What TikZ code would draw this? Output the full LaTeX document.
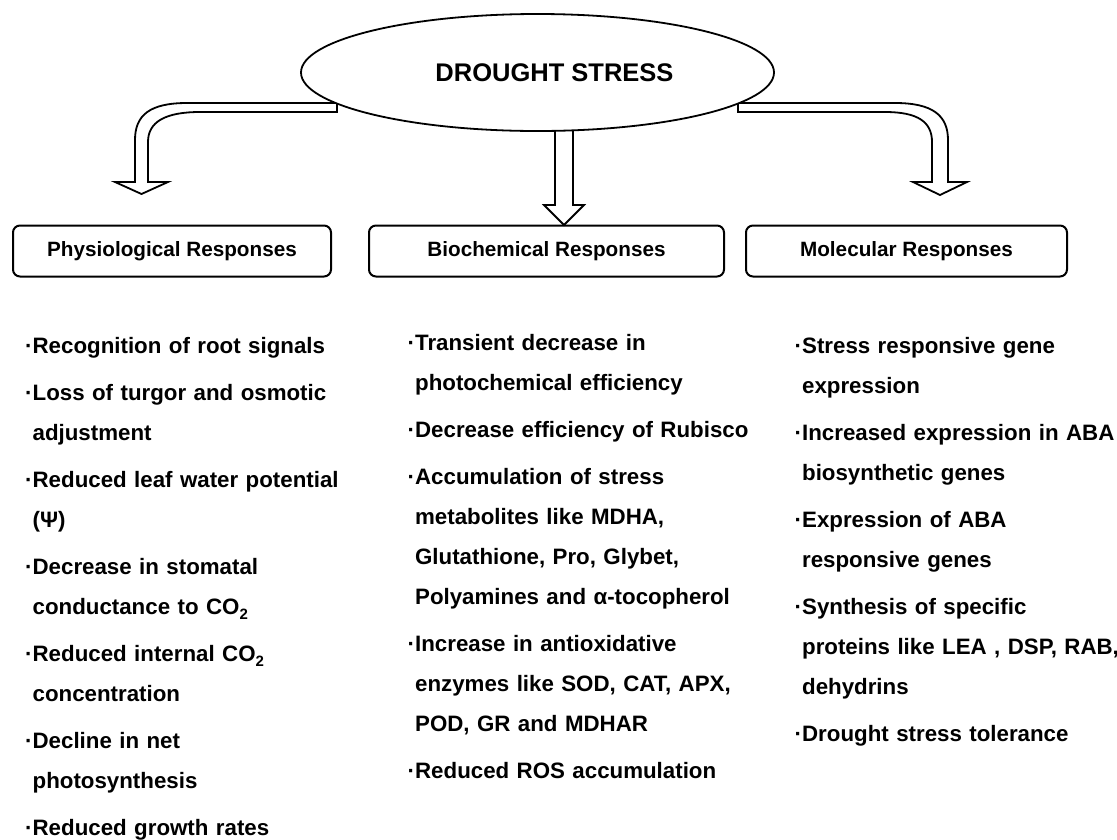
\documentclass[tikz,border=0pt]{standalone}
\usepackage{fontspec}
\setmainfont{Liberation Sans}
\usetikzlibrary{shapes.geometric}
\newcommand{\mybul}{·}
\newcommand{\myph}{\hphantom{·}}
\newcommand{\cotwo}{CO\raisebox{-5pt}{\fontsize{15}{15}\selectfont 2}}
\begin{document}
\begin{tikzpicture}[x=1pt,y=-1pt,
  blockarrow/.style={draw, line width=1.8pt, fill=white, line join=miter},
  headbox/.style={draw, rounded corners=7pt, line width=2pt, minimum height=51pt, inner sep=0pt,
    font=\fontsize{20.7}{24}\selectfont\bfseries},
  col/.style={anchor=base west, align=left, text width=400pt, inner sep=0pt,
    font=\fontsize{22.3}{40}\selectfont\bfseries}]
\useasboundingbox (0,0) rectangle (1117,839);
\fill[white] (0,0) rectangle (1117,839);

% block arrows
\draw[blockarrow] (337,103) -- (187,103) .. controls (150,103) and (135,115) .. (135,140)
  -- (135,182) -- (115,182) -- (141.5,194) -- (168,182) -- (148,182) -- (148,142)
  .. controls (148,122) and (165,112) .. (200,112) -- (337,112) -- cycle;
\draw[blockarrow] (738,103) -- (895,103) .. controls (932,103) and (948,115) .. (948,140)
  -- (948,182) -- (967,182) -- (940,195) -- (913,182) -- (932,182) -- (932,142)
  .. controls (932,122) and (918,112) .. (885,112) -- (738,112) -- cycle;
\draw[blockarrow] (555,120) -- (555,205) -- (544,205) -- (564,225) -- (584,205)
  -- (573,205) -- (573,120) -- cycle;

% central ellipse
\node[ellipse, draw, line width=1.8pt, fill=white, minimum width=473pt, minimum height=117pt,
  inner sep=0pt] (drought) at (537.5,72.5) {};
\node[font=\fontsize{25.5}{30}\selectfont\bfseries, inner sep=0pt] (dtext) at (554.5,72.5) {DROUGHT STRESS};

% header boxes
\node[headbox, minimum width=318pt] (phys) at (172,251) {Physiological Responses};
\node[headbox, minimum width=355pt] (bio) at (546.5,251) {Biochemical Responses};
\node[headbox, minimum width=321pt] (mol) at (906.5,251) {Molecular Responses};

% columns
\node[col] (left) at (25,353) {\mybul Recognition of root signals\\[7pt]
\mybul Loss of turgor and osmotic\\ \myph adjustment\\[7pt]
\mybul Reduced leaf water potential\\ \myph (Ψ)\\[7pt]
\mybul Decrease in stomatal\\ \myph conductance to \cotwo\\[7pt]
\mybul Reduced internal \cotwo\\ \myph concentration\\[7pt]
\mybul Decline in net\\ \myph photosynthesis\\[7pt]
\mybul Reduced growth rates};

\node[col] (mid) at (407.5,350) {\mybul Transient decrease in\\ \myph photochemical efficiency\\[7pt]
\mybul Decrease efficiency of Rubisco\\[7pt]
\mybul Accumulation of stress\\ \myph metabolites like MDHA,\\ \myph Glutathione, Pro, Glybet,\\ \myph Polyamines and α-tocopherol\\[7pt]
\mybul Increase in antioxidative\\ \myph enzymes like SOD, CAT, APX,\\ \myph POD, GR and MDHAR\\[7pt]
\mybul Reduced ROS accumulation};

\node[col] (right) at (794.5,353) {\mybul Stress responsive gene\\ \myph expression\\[7pt]
\mybul Increased expression in ABA\\ \myph biosynthetic genes\\[7pt]
\mybul Expression of ABA\\ \myph responsive genes\\[7pt]
\mybul Synthesis of specific\\ \myph proteins like LEA , DSP, RAB,\\ \myph dehydrins\\[7pt]
\mybul Drought stress tolerance};
\end{tikzpicture}
\end{document}
